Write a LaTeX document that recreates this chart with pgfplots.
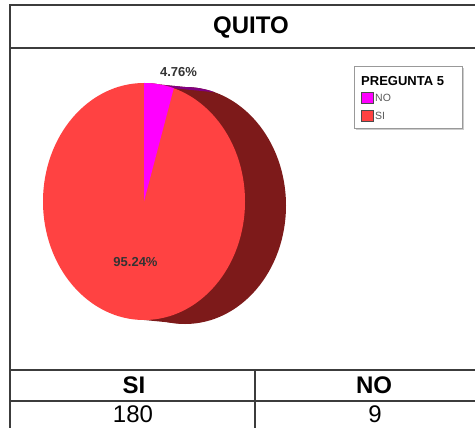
\documentclass[border=0pt]{standalone}
\usepackage{pgfplots}
\pgfplotsset{compat=1.18}
\usepackage{pgfplotstable}
\usepackage{fontspec}
\setmainfont{Liberation Sans}

\definecolor{pieRed}{RGB}{255,66,66}
\definecolor{pieRedDark}{RGB}{125,26,26}
\definecolor{pieMag}{RGB}{255,0,255}
\definecolor{pieMagDark}{RGB}{128,0,128}
\definecolor{frameLine}{RGB}{60,60,60}
\definecolor{txt}{RGB}{51,51,51}

% pregunta 5, Quito
\pgfplotstableread{
label value
NO 9
SI 180
}\piedata

\begin{document}
\begin{tikzpicture}
\useasboundingbox (0,0) rectangle (475pt,428pt);
\pgfplotstablegetelem{0}{value}\of\piedata \edef\vno{\pgfplotsretval}
\pgfplotstablegetelem{1}{value}\of\piedata \edef\vsi{\pgfplotsretval}
\pgfplotstablegetelem{0}{label}\of\piedata \edef\lno{\pgfplotsretval}
\pgfplotstablegetelem{1}{label}\of\piedata \edef\lsi{\pgfplotsretval}
\pgfmathsetmacro\fno{\vno/(\vno+\vsi)}
\pgfmathsetmacro\aend{90-360*\fno}
\pgfmathsetmacro\pctno{100*\fno}
\pgfmathsetmacro\pctsi{100-\pctno}
\begin{axis}[
  at={(0pt,428pt)}, anchor=origin,
  width=475pt, height=428pt, scale only axis,
  xmin=0, xmax=475, ymin=0, ymax=428, y dir=reverse,
  hide axis, clip=false,
]
% frame
\draw[frameLine, line width=1.8pt] (axis cs:10,428) -- (axis cs:10,5) -- (axis cs:500,5);
\draw[frameLine, line width=1.8pt] (axis cs:10,48) -- (axis cs:500,48);
\draw[frameLine, line width=1.8pt] (axis cs:10,370) -- (axis cs:500,370);
\draw[frameLine, line width=1.8pt] (axis cs:10,401) -- (axis cs:500,401);
\draw[frameLine, line width=1.8pt] (axis cs:255,370) -- (axis cs:255,428);
\node[font=\fontsize{24}{28}\selectfont\bfseries] at (axis cs:251,27) {QUITO};

% pie: side
\fill[pieRedDark] (axis cs:185,205.5) ellipse [x radius=101pt, y radius=118.5pt];
\fill[pieRedDark] (axis cs:144,83) -- (axis cs:185,87) -- (axis cs:185,324) -- (axis cs:144,320) -- cycle;
\fill[pieMagDark] (axis cs:144,201.5) ++(90:101pt and 118.5pt)
   arc[start angle=90, end angle=\aend, x radius=101pt, y radius=118.5pt]
   -- ++(41pt,-4pt)
   arc[start angle=\aend, end angle=90, x radius=101pt, y radius=118.5pt] -- cycle;
% pie: front
\fill[pieRed] (axis cs:144,201.5) ellipse [x radius=101pt, y radius=118.5pt];
\fill[pieMag] (axis cs:144,201.5) -- ++(90:101pt and 118.5pt)
   arc[start angle=90, end angle=\aend, x radius=101pt, y radius=118.5pt] -- cycle;
\node[font=\fontsize{13}{15}\selectfont\bfseries, text=txt] at (axis cs:178.5,72)
  {\pgfmathprintnumber[fixed,precision=2,fixed zerofill,assume math mode=true]{\pctno}\%};
\node[font=\fontsize{13}{15}\selectfont\bfseries, text=txt] at (axis cs:135.5,262)
  {\pgfmathprintnumber[fixed,precision=2,fixed zerofill,assume math mode=true]{\pctsi}\%};

% legend
\fill[black!20] (axis cs:356,68) rectangle (axis cs:464,130);
\filldraw[fill=white, draw=black!40, line width=0.8pt] (axis cs:354,66) rectangle (axis cs:462,128);
\node[anchor=west, inner sep=0pt, font=\fontsize{13}{15}\selectfont\bfseries] at (axis cs:361,81) {PREGUNTA 5};
\filldraw[fill=pieMag, draw=black!70, line width=0.5pt] (axis cs:361,92) rectangle (axis cs:373,103);
\node[anchor=west, inner sep=0pt, text=black!65, font=\fontsize{10.5}{12}\selectfont] at (axis cs:375,97.5) {\lno};
\filldraw[fill=pieRed, draw=black!70, line width=0.5pt] (axis cs:361,110) rectangle (axis cs:373,121);
\node[anchor=west, inner sep=0pt, text=black!65, font=\fontsize{10.5}{12}\selectfont] at (axis cs:375,115.5) {\lsi};

% table
\node[font=\fontsize{24}{28}\selectfont\bfseries] at (axis cs:134,385.5) {\lsi};
\node[font=\fontsize{24}{28}\selectfont\bfseries] at (axis cs:374,385.5) {\lno};
\node[font=\fontsize{24}{28}\selectfont] at (axis cs:133,414) {\vsi};
\node[font=\fontsize{24}{28}\selectfont] at (axis cs:375,414) {\vno};
\end{axis}
\end{tikzpicture}
\end{document}
